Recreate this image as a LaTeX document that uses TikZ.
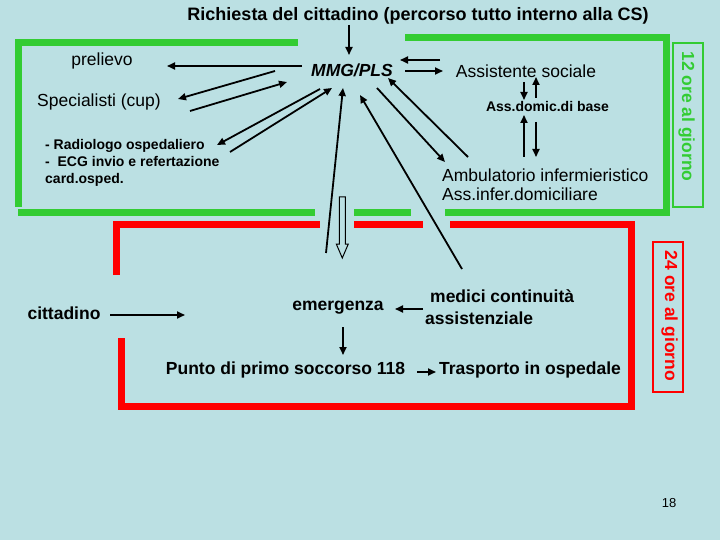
\documentclass[tikz,border=0pt]{standalone}
\usepackage{fontspec}
\setmainfont{Liberation Sans}
\usetikzlibrary{arrows.meta}
\definecolor{bg}{RGB}{187,224,227}
\definecolor{grn}{RGB}{51,204,51}
\definecolor{rd}{RGB}{255,0,0}
\begin{document}
\begin{tikzpicture}[x=1pt,y=-1pt,
 txt/.style={inner sep=0pt, font=\fontsize{17.5}{20}\selectfont},
 btxt/.style={inner sep=0pt, font=\fontsize{17.5}{20}\selectfont\bfseries},
 stxt/.style={inner sep=0pt, font=\fontsize{14}{17}\selectfont\bfseries},
 arr/.style={line width=1.8pt, -{Triangle[length=8pt,width=7pt]}},
 gbar/.style={draw=grn, line width=7pt},
 rbar/.style={draw=rd, line width=7pt},
]
\useasboundingbox (0,0) rectangle (720,540);
\fill[bg] (0,0) rectangle (720,540);

% green frame (12 ore)
\draw[gbar] (18,207) -- (18,43) -- (298,43);
\draw[gbar] (18,213) -- (315,213);
\draw[gbar] (354,213) -- (411,213);
\draw[gbar] (405,37.5) -- (666.5,37.5) -- (666.5,216.5);
\draw[gbar] (666.5,213) -- (445,213);
% red frame (24 ore)
\draw[rbar] (116.7,275) -- (116.7,225) -- (320,225);
\draw[rbar] (354,225) -- (423,225);
\draw[rbar] (121.7,338) -- (121.7,406) -- (631.5,406) -- (631.5,225) -- (450,225);

% side labels
\node[draw=grn, line width=2.5pt, minimum width=30pt, minimum height=164pt, inner sep=0pt] (box12) at (688,125) {};
\node[btxt, text=grn, rotate=-90] (l12) at (686.5,116.5) {12 ore al giorno};
\node[draw=rd, line width=2.5pt, minimum width=30pt, minimum height=150pt, inner sep=0pt] (box24) at (668,317) {};
\node[btxt, text=rd, rotate=-90] (l24) at (669.5,316) {24 ore al giorno};

% texts
\node[inner sep=0pt, font=\fontsize{18}{20}\selectfont\bfseries] (title) at (418,16) {Richiesta del cittadino (percorso tutto interno alla CS)};
\node[txt] (prel) at (102,61) {prelievo};
\node[btxt, font=\fontsize{17.5}{20}\selectfont\bfseries\itshape] (mmg) at (352,70) {MMG/PLS};
\node[txt] (spec) at (99,102) {Specialisti (cup)};
\node[txt] (assoc) at (526,71) {Assistente sociale};
\node[stxt] (adom) at (547.5,106) {Ass.domic.di base};
\node[stxt, anchor=west, align=left] (rad) at (45,163) {- Radiologo ospedaliero\\-\ \ ECG invio e refertazione\\card.osped.};
\node[txt, anchor=west, align=left, font=\fontsize{17.5}{19}\selectfont] (amb) at (442,184.5) {Ambulatorio infermieristico\\Ass.infer.domiciliare};
\node[btxt] (citt) at (64,313) {cittadino};
\node[btxt] (emer) at (338,308) {emergenza};
\node[btxt, anchor=west, align=left, font=\fontsize{17.5}{22}\selectfont\bfseries] (med) at (425,307) {\hspace*{5pt}medici continuità\\assistenziale};
\node[btxt] (punto) at (285.5,370) {Punto di primo soccorso 118};
\node[btxt] (trasp) at (530,370) {Trasporto in ospedale};
\node[inner sep=0pt, font=\fontsize{13}{15}\selectfont] (pg) at (669,503) {18};

% connector end points
\coordinate (t0) at (349,25);   \coordinate (t1) at (349,55);
\coordinate (p0) at (302,66);   \coordinate (p1) at (167,66);
\coordinate (s0) at (275,71);   \coordinate (s1) at (178,99);
\coordinate (s2) at (190,111);  \coordinate (s3) at (287,82);
\coordinate (r0) at (320,89);   \coordinate (r1) at (217,145);
\coordinate (r2) at (230,152);  \coordinate (r3) at (332,88);
\coordinate (v0) at (326,253);  \coordinate (v1) at (343,88);
\coordinate (w0) at (462,269);  \coordinate (w1) at (360,95);
\coordinate (a0) at (377,88);   \coordinate (a1) at (445,162);
\coordinate (a2) at (468,157);  \coordinate (a3) at (388,78);
\coordinate (as0) at (440,60);  \coordinate (as1) at (400,60);
\coordinate (as2) at (405,71);  \coordinate (as3) at (443,71);
\coordinate (d0) at (524,82);   \coordinate (d1) at (524,100);
\coordinate (d2) at (536,98);   \coordinate (d3) at (536,77);
\coordinate (e0) at (524,157);  \coordinate (e1) at (524,115);
\coordinate (e2) at (536,122);  \coordinate (e3) at (536,157);
\coordinate (c0) at (110,315);  \coordinate (c1) at (185,315);
\coordinate (m0) at (423,309);  \coordinate (m1) at (395,309);
\coordinate (g0) at (343,327);  \coordinate (g1) at (343,355);
\coordinate (h0) at (417,372);  \coordinate (h1) at (436,372);

\draw[arr] (t0) -- (t1);
\draw[arr] (p0) -- (p1);
\draw[arr] (s0) -- (s1);
\draw[arr] (s2) -- (s3);
\draw[arr] (r0) -- (r1);
\draw[arr] (r2) -- (r3);
\draw[arr] (v0) -- (v1);
\draw[arr] (w0) -- (w1);
\draw[arr] (a0) -- (a1);
\draw[arr] (a2) -- (a3);
\draw[arr] (as0) -- (as1);
\draw[arr] (as2) -- (as3);
\draw[arr] (d0) -- (d1);
\draw[arr] (d2) -- (d3);
\draw[arr] (e0) -- (e1);
\draw[arr] (e2) -- (e3);
\draw[arr] (c0) -- (c1);
\draw[arr] (m0) -- (m1);
\draw[arr] (g0) -- (g1);
\draw[arr] (h0) -- (h1);

% hollow block arrow
\draw[line width=1pt] (339.3,197) -- (345.3,197) -- (345.3,244) -- (348.3,244) -- (342.3,258) -- (336.3,244) -- (339.3,244) -- cycle;
\end{tikzpicture}
\end{document}
